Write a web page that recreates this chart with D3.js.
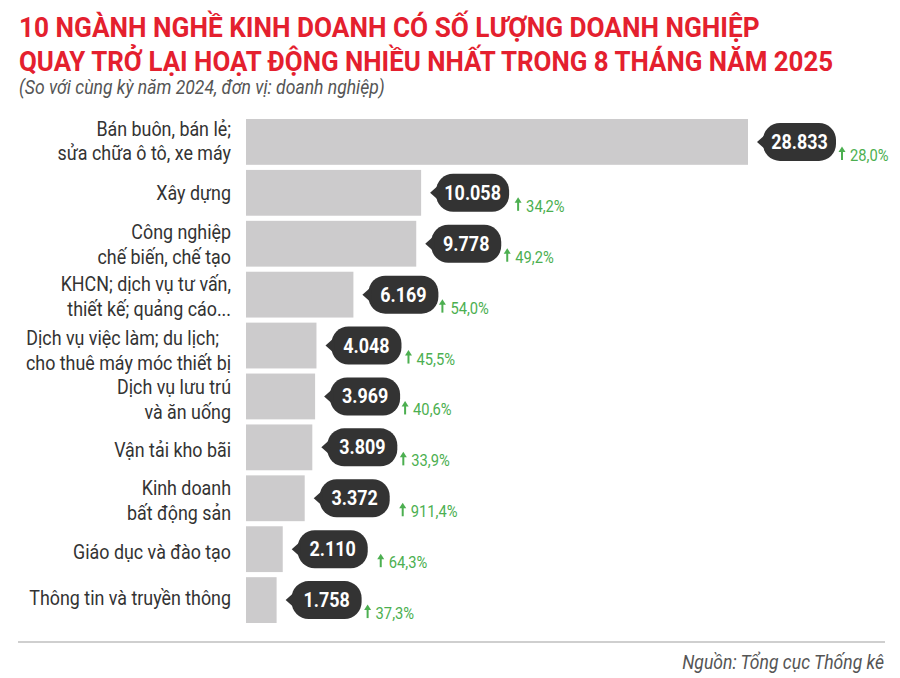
<!DOCTYPE html>
<html>
<head>
<meta charset="utf-8">
<script src="https://cdn.jsdelivr.net/npm/d3@7"></script>
<style>
  html, body { margin: 0; padding: 0; background: #fff; }
  svg { display: block; font-family: Roboto, sans-serif; }
</style>
</head>
<body>
<svg id="chart" width="900" height="678"></svg>
<script>
// Chart data
const titleLines = [
  "10 NGÀNH NGHỀ KINH DOANH CÓ SỐ LƯỢNG DOANH NGHIỆP",
  "QUAY TRỞ LẠI HOẠT ĐỘNG NHIỀU NHẤT TRONG 8 THÁNG NĂM 2025"
];
const subtitle = "(So với cùng kỳ năm 2024, đơn vị: doanh nghiệp)";
const source = "Nguồn: Tổng cục Thống kê";

const categories = [
  ["Bán buôn, bán lẻ;", "sửa chữa ô tô, xe máy"],
  ["Xây dựng"],
  ["Công nghiệp", "chế biến, chế tạo"],
  ["KHCN; dịch vụ tư vấn,", "thiết kế; quảng cáo..."],
  ["Dịch vụ việc làm; du lịch;", "cho thuê máy móc thiết bị"],
  ["Dịch vụ lưu trú", "và ăn uống"],
  ["Vận tải kho bãi"],
  ["Kinh doanh", "bất động sản"],
  ["Giáo dục và đào tạo"],
  ["Thông tin và truyền thông"]
];
const values = [28833, 10058, 9778, 6169, 4048, 3969, 3809, 3372, 2110, 1758];
const valueLabels = ["28.833", "10.058", "9.778", "6.169", "4.048", "3.969", "3.809", "3.372", "2.110", "1.758"];
const growth = ["28,0%", "34,2%", "49,2%", "54,0%", "45,5%", "40,6%", "33,9%", "911,4%", "64,3%", "37,3%"];

const RED = "#e4202e";
const GREEN = "#4caf50";
const DARK = "#333333";
const squeeze = 0.88; // no Roboto Condensed here, so squash Roboto instead

// Hand placed nudges, the original layout is not quite regular
const labelNudge = [-1, 0, 1, 2, 5, 3, 3, 2, 3, -2];
const growthNudge = [-1, 2, -1, -3, 0, -2, -1, 6, 6, -1];

let svg = d3.select("#chart");

let x = d3.scaleLinear().domain([0, 28833]).range([246, 748]);
let y = d3.scaleBand()
  .domain(d3.range(values.length))
  .range([119, 623])
  .paddingInner(0.1)
  .paddingOuter(0);

// Text helper, squeezed horizontally around its anchor
let addText = (parent, px, py, str, size, fill, opts = {}) => {
  return parent.append("text")
    .attr("transform", `translate(${px},${py}) scale(${opts.sx || squeeze},1)`)
    .attr("font-size", size)
    .attr("fill", fill)
    .attr("font-weight", opts.weight || 400)
    .attr("font-style", opts.italic ? "italic" : "normal")
    .attr("text-anchor", opts.anchor || "start")
    .text(str);
};

// Title
addText(svg, 19, 37, titleLines[0], 27.5, RED, { weight: 700, sx: 0.953 });
addText(svg, 19, 71, titleLines[1], 27.5, RED, { weight: 700, sx: 0.942 });
addText(svg, 19, 94, subtitle, 19.5, "#555", { italic: true, sx: 0.9 });

// Bars
svg.selectAll("rect.bar")
  .data(values)
  .enter()
  .append("rect")
  .attr("class", "bar")
  .attr("x", x(0))
  .attr("y", (d, i) => y(i))
  .attr("width", (d) => x(d) - x(0))
  .attr("height", y.bandwidth())
  .attr("fill", "#cccbcc");

// Category labels
categories.forEach((lines, i) => {
  let cy = y(i) + y.bandwidth() / 2 + labelNudge[i];
  let firstBase = cy + 7 - (lines.length - 1) * 12.25;
  lines.forEach((line, k) => {
    // the first line of this one row does not reach the right edge in the original
    let right = i === 4 && k === 0 ? 219 : 231;
    addText(svg, right, firstBase + k * 24.5, line, 20.3, "#333", { anchor: "end" });
  });
});

// Value callouts and growth labels
values.forEach((v, i) => {
  let cy = y(i) + y.bandwidth() / 2;
  let left = x(v) + 15;
  let pillW = valueLabels[i].length > 5 ? 73 : 70;
  let g = svg.append("g");

  g.append("rect")
    .attr("x", left)
    .attr("y", cy - 19)
    .attr("width", pillW)
    .attr("height", 38)
    .attr("rx", 17)
    .attr("fill", DARK);
  g.append("path")
    .attr("d", `M${left - 6},${cy} L${left + 3},${cy - 8} L${left + 3},${cy + 8} Z`)
    .attr("fill", DARK);

  addText(g, left + pillW / 2, cy + 7, valueLabels[i], 19.5, "#fff", { weight: 700, anchor: "middle", sx: 0.92 });

  let ax = left + pillW + 7 + growthNudge[i];
  g.append("path")
    .attr("d", `M${ax},${cy + 18} V${cy + 8}`)
    .attr("stroke", GREEN)
    .attr("stroke-width", 2);
  g.append("path")
    .attr("d", `M${ax - 3.5},${cy + 10} L${ax},${cy + 4.5} L${ax + 3.5},${cy + 10} Z`)
    .attr("fill", GREEN);
  addText(g, ax + 8, cy + 19, growth[i], 16, GREEN, { sx: 0.92 });
});

// Footer
svg.append("line")
  .attr("x1", 18).attr("x2", 885)
  .attr("y1", 642).attr("y2", 642)
  .attr("stroke", "#cfcfcf")
  .attr("stroke-width", 2);
addText(svg, 884, 669, source, 19.5, "#555", { italic: true, anchor: "end", sx: 0.9 });
</script>
</body>
</html>
